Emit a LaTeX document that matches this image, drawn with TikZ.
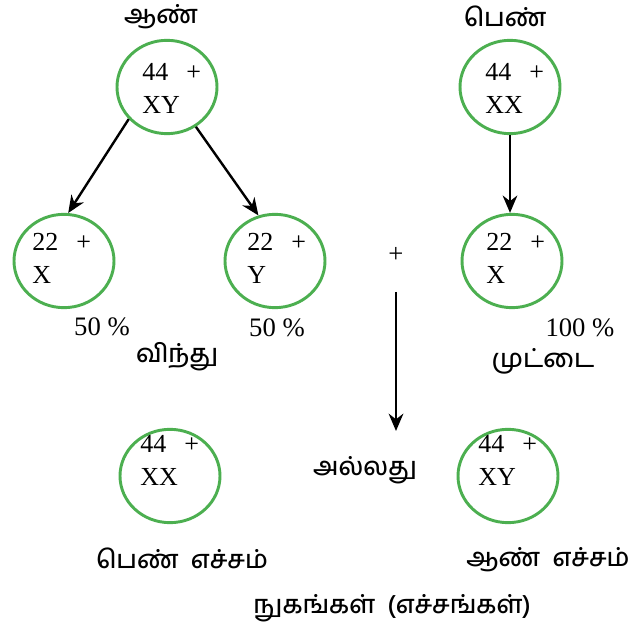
\documentclass[tikz,border=0pt]{standalone}
\usepackage{fontspec}
\setmainfont{Liberation Serif}
\newfontfamily\tamilfont[Script=Tamil,UprightFont=* Medium]{Hind Madurai}
\usetikzlibrary{arrows.meta,positioning,shapes.geometric}
\definecolor{ringgreen}{RGB}{76,175,80}

\tikzset{
  ring/.style={ellipse,draw=ringgreen,line width=2.2pt,minimum width=75pt,minimum height=70pt,inner sep=0pt},
  chrom/.style={align=left,anchor=north west,inner sep=0pt,font=\fontsize{19.5}{25}\selectfont},
  num/.style={inner sep=0pt,font=\fontsize{20}{23}\selectfont},
  ta/.style={inner sep=0pt,font=\tamilfont\fontsize{19}{23}\selectfont},
  arr/.style={-{Stealth[length=13pt,width=11pt]},line width=1.8pt}
}

\begin{document}
\begin{tikzpicture}[x=0.75pt,y=-0.75pt]
  \useasboundingbox (0,0) rectangle (635,634);
  % parents
  \node[ta] (maleLbl) at (161,17) {ஆண்};
  \node[ta] (femaleLbl) at (505,16) {பெண்};
  \node[ring] (male) at (167,87) {};
  \node[chrom] (maleK) at (142,63) {44\hspace{0.7em}+\\XY};
  \node[ring] (female) at (510,87) {};
  \node[chrom] (femaleK) at (485,63) {44\hspace{0.7em}+\\XX};
  % gametes
  \node[ring] (spermX) at (64,261) {};
  \node[chrom] (spermXK) at (32,233) {22\hspace{0.7em}+\\X};
  \node[ring] (spermY) at (275,261) {};
  \node[chrom] (spermYK) at (247,233) {22\hspace{0.7em}+\\Y};
  \node[ring] (eggX) at (512,261) {};
  \node[chrom] (eggXK) at (486,233) {22\hspace{0.7em}+\\X};
  \node[num] (pctX) at (102,327) {50 \%};
  \node[num] (pctY) at (277,328) {50 \%};
  \node[num] (pctEgg) at (580,328) {100 \%};
  \node[num] (plus) at (396,255) {+};
  \node[ta] (spermLbl) at (177,357) {விந்து};
  \node[ta] (eggLbl) at (543,361) {முட்டை};
  \draw[arr] (male.220) -- (spermX.85);
  \draw[arr] (male.306) -- (spermY.110);
  \draw[arr] (female.south) -- (female.south |- eggX.north);
  \coordinate (fuseTop) at (396,292);
  \coordinate (fuseBot) at (396,431);
  \draw[arr] (fuseTop) -- (fuseBot);
  % zygotes
  \node[ring] (zygF) at (170,476) {};
  \node[chrom] (zygFK) at (140,435) {44\hspace{0.7em}+\\XX};
  \node[ring] (zygM) at (508,476) {};
  \node[chrom] (zygMK) at (478,435) {44\hspace{0.7em}+\\XY};
  \node[ta] (orLbl) at (365,470) {அல்லது};
  \node[ta] (zygFLbl) at (182,558) {பெண்\ \ எச்சம்};
  \node[ta] (zygMLbl) at (548,560) {ஆண்\ \ எச்சம்};
  \node[ta] (zygLbl) at (392,608) {நுகங்கள்\ \ (எச்சங்கள்)};
\end{tikzpicture}
\end{document}
